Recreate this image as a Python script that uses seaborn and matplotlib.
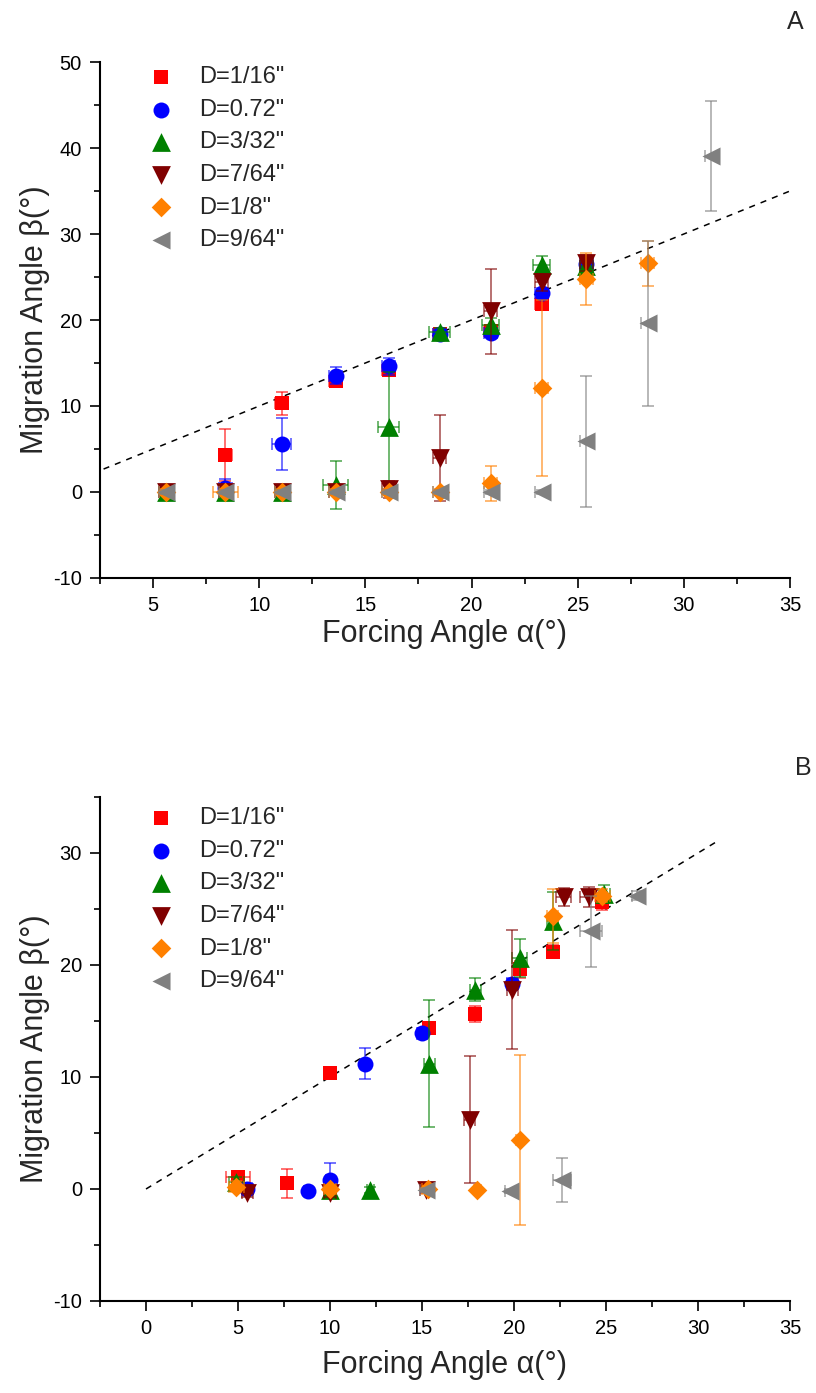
import matplotlib
matplotlib.use("Agg")
import matplotlib.pyplot as plt
import seaborn as sns
from matplotlib.ticker import MultipleLocator

sns.set_style("ticks")
plt.rcParams['font.family'] = ['Liberation Sans', 'DejaVu Sans']
plt.rcParams['axes.unicode_minus'] = False

labels = ['D=1/16"', 'D=0.72"', 'D=3/32"', 'D=7/64"', 'D=1/8"', 'D=9/64"']
colors = ['#FF0000', '#0000FF', '#008000', '#800000', '#FF8000', '#808080']
markers = ['s', 'o', '^', 'v', 'D', '<']
msizes = [10, 11.5, 13.5, 13.5, 10, 13]

# ---------------- Panel A data ----------------
a_red_x = [5.6, 8.4, 11.05, 13.6, 16.1, 18.5, 20.9, 23.3, 25.4]
a_red_y = [0.0, 4.3, 10.3, 12.9, 14.2, 18.4, 18.7, 21.9, 26.2]
a_red_yerr = [0.3, 3.0, 1.3, 0.5, 0.5, 0.4, 0.5, 0.6, 0.6]
a_red_xerr = [0.3, 0.3, 0.3, 0.3, 0.3, 0.3, 0.3, 0.3, 0.3]

a_blue_x = [5.6, 8.4, 11.05, 13.6, 16.1, 18.5, 20.9, 23.3, 25.4]
a_blue_y = [0.0, 0.5, 5.6, 13.5, 14.6, 18.4, 18.5, 23.1, 26.5]
a_blue_yerr = [0.3, 1.0, 3.0, 1.0, 1.0, 0.4, 0.5, 0.6, 0.6]
a_blue_xerr = [0.3, 0.3, 0.45, 0.3, 0.3, 0.3, 0.3, 0.3, 0.3]

a_green_x = [5.6, 8.4, 11.05, 13.6, 16.1, 18.5, 20.9, 23.3, 25.4]
a_green_y = [0.0, 0.0, 0.0, 0.8, 7.5, 18.6, 19.4, 26.4, 26.3]
a_green_yerr = [0.4, 0.4, 0.4, 2.8, 6.5, 0.5, 0.8, 1.0, 0.9]
a_green_xerr = [0.3, 0.3, 0.3, 0.6, 0.5, 0.5, 0.4, 0.4, 0.3]

a_brown_x = [5.6, 8.4, 11.05, 13.6, 16.1, 18.5, 20.9, 23.3, 25.4]
a_brown_y = [0.0, 0.0, 0.0, 0.0, 0.3, 4.0, 21.0, 24.4, 26.6]
a_brown_yerr = [0.3, 0.3, 0.3, 0.3, 1.0, 5.0, 4.9, 1.0, 0.9]
a_brown_xerr = [0.3, 0.3, 0.3, 0.3, 0.3, 0.3, 0.3, 0.3, 0.3]

a_orange_x = [5.6, 8.4, 11.05, 13.6, 16.1, 18.5, 20.9, 23.3, 25.4, 28.3]
a_orange_y = [0.0, 0.0, 0.0, 0.0, 0.0, 0.0, 1.0, 12.1, 24.8, 26.6]
a_orange_yerr = [0.3, 0.3, 0.3, 0.3, 0.3, 0.3, 2.0, 10.2, 3.0, 2.6]
a_orange_xerr = [0.3, 0.6, 0.3, 0.3, 0.3, 0.3, 0.3, 0.3, 0.3, 0.3]

a_gray_x = [5.6, 8.4, 11.05, 13.6, 16.1, 18.5, 20.9, 23.3, 25.4, 28.3, 31.3]
a_gray_y = [0.0, 0.0, 0.0, 0.0, 0.0, 0.0, 0.0, 0.0, 5.9, 19.6, 39.1]
a_gray_yerr = [0.2, 0.2, 0.2, 0.2, 0.2, 0.2, 0.2, 0.2, 7.6, 9.6, 6.4]
a_gray_xerr = [0.3, 0.3, 0.3, 0.3, 0.3, 0.3, 0.3, 0.3, 0.3, 0.3, 0.3]

# ---------------- Panel B data ----------------
b_red_x = [5.0, 7.65, 10.0, 15.4, 17.9, 20.3, 22.1, 24.8]
b_red_y = [1.1, 0.5, 10.4, 14.4, 15.6, 19.6, 21.2, 25.6]
b_red_yerr = [0.5, 1.3, 0.3, 0.5, 0.7, 0.8, 0.6, 0.7]
b_red_xerr = [0.67, 0.2, 0.2, 0.2, 0.3, 0.3, 0.3, 0.3]

b_blue_x = [5.5, 8.8, 10.0, 11.9, 15.0, 19.9]
b_blue_y = [0.0, -0.2, 0.8, 11.2, 13.9, 18.3]
b_blue_yerr = [0.5, 0.3, 1.5, 1.4, 0.5, 0.5]
b_blue_xerr = [0.3, 0.2, 0.2, 0.2, 0.2, 0.3]

b_green_x = [4.9, 10.0, 12.2, 15.4, 17.9, 20.3, 22.1, 24.9]
b_green_y = [0.6, -0.1, -0.1, 11.2, 17.8, 20.6, 23.9, 26.3]
b_green_yerr = [0.5, 0.3, 0.3, 5.7, 1.0, 1.7, 2.6, 0.8]
b_green_xerr = [0.4, 0.3, 0.2, 0.3, 0.3, 0.4, 0.3, 0.3]

b_brown_x = [5.5, 10.0, 15.2, 17.6, 19.9, 22.7, 24.1]
b_brown_y = [-0.4, -0.4, -0.1, 6.2, 17.8, 26.1, 26.1]
b_brown_yerr = [0.3, 0.3, 0.3, 5.7, 5.3, 0.8, 0.9]
b_brown_xerr = [0.3, 0.3, 0.3, 0.3, 0.3, 0.4, 0.5]

b_orange_x = [4.9, 10.0, 15.3, 18.0, 20.3, 22.1, 24.8]
b_orange_y = [0.2, 0.0, 0.0, -0.1, 4.4, 24.4, 26.2]
b_orange_yerr = [0.5, 0.4, 0.3, 0.2, 7.6, 2.4, 0.6]
b_orange_xerr = [0.4, 0.3, 0.3, 0.2, 0.2, 0.3, 0.4]

b_gray_x = [15.2, 19.8, 22.6, 24.2, 26.7]
b_gray_y = [-0.1, -0.2, 0.8, 23.0, 26.2]
b_gray_yerr = [0.2, 0.2, 2.0, 3.2, 0.4]
b_gray_xerr = [0.3, 0.3, 0.5, 0.6, 0.3]

panel_a = [
    (a_red_x, a_red_y, a_red_xerr, a_red_yerr),
    (a_blue_x, a_blue_y, a_blue_xerr, a_blue_yerr),
    (a_green_x, a_green_y, a_green_xerr, a_green_yerr),
    (a_brown_x, a_brown_y, a_brown_xerr, a_brown_yerr),
    (a_orange_x, a_orange_y, a_orange_xerr, a_orange_yerr),
    (a_gray_x, a_gray_y, a_gray_xerr, a_gray_yerr),
]
panel_b = [
    (b_red_x, b_red_y, b_red_xerr, b_red_yerr),
    (b_blue_x, b_blue_y, b_blue_xerr, b_blue_yerr),
    (b_green_x, b_green_y, b_green_xerr, b_green_yerr),
    (b_brown_x, b_brown_y, b_brown_xerr, b_brown_yerr),
    (b_orange_x, b_orange_y, b_orange_xerr, b_orange_yerr),
    (b_gray_x, b_gray_y, b_gray_xerr, b_gray_yerr),
]

fig = plt.figure(figsize=(8.16, 13.93), dpi=100)
axA = fig.add_axes([100 / 816, 1 - 578 / 1393, 690 / 816, 516 / 1393])
axB = fig.add_axes([100 / 816, 1 - 1301 / 1393, 690 / 816, 504 / 1393])


def draw(ax, data, xlim, ylim, line_end, legend_top, xlabel_y):
    ax.plot([line_end[0], line_end[1]], [line_end[0], line_end[1]], ls=(0, (4, 4)),
            color='black', lw=1.1, zorder=1)
    for i, (x, y, xe, ye) in enumerate(data):
        ax.errorbar(x, y, xerr=xe, yerr=ye, fmt='none', ecolor=colors[i], alpha=0.65,
                    elinewidth=1.2, capsize=4.5, capthick=1.2, zorder=2 + 2 * i)
        sns.scatterplot(x=x, y=y, ax=ax, marker=markers[i], s=msizes[i] ** 2,
                        color=colors[i], linewidth=0, label=labels[i], zorder=3 + 2 * i)
    ax.set_xlim(*xlim)
    ax.set_ylim(*ylim)
    ax.xaxis.set_major_locator(MultipleLocator(5))
    ax.xaxis.set_minor_locator(MultipleLocator(2.5))
    ax.yaxis.set_major_locator(MultipleLocator(10))
    ax.yaxis.set_minor_locator(MultipleLocator(5))
    ax.tick_params(axis='both', which='major', direction='out', length=7, width=1.2,
                   labelsize=14.5, color='black', labelcolor='black', pad=6)
    ax.tick_params(axis='both', which='minor', direction='out', length=4, width=1.2,
                   color='black')
    for s in ['left', 'bottom']:
        ax.spines[s].set_linewidth(1.5)
        ax.spines[s].set_color('black')
    sns.despine(ax=ax)
    ax.set_xlabel('Forcing Angle α(°)', fontsize=22, va='center')
    ax.set_ylabel('Migration Angle β(°)', fontsize=22, va='center')
    ax.xaxis.set_label_coords(0.5, xlabel_y)
    ax.yaxis.set_label_coords(-65 / 690, 0.5)
    ax.legend(loc='upper left', bbox_to_anchor=(0.054, legend_top), frameon=False,
              fontsize=17, handletextpad=0.6, labelspacing=0.45, borderpad=0,
              borderaxespad=0, handlelength=2.0)
    ax.set_facecolor('white')


draw(axA, panel_a, (2.5, 35), (-10, 50), (0, 35), 0.992, -56 / 516)
draw(axB, panel_b, (-2.5, 35), (-10, 35), (0, 31), 0.98, -64 / 504)

fig.text(795 / 816, 1 - 22 / 1393, 'A', fontsize=18, ha='center', va='center')
fig.text(803 / 816, 1 - 768 / 1393, 'B', fontsize=18, ha='center', va='center')

fig.savefig('out.png', dpi=100, facecolor='white')
